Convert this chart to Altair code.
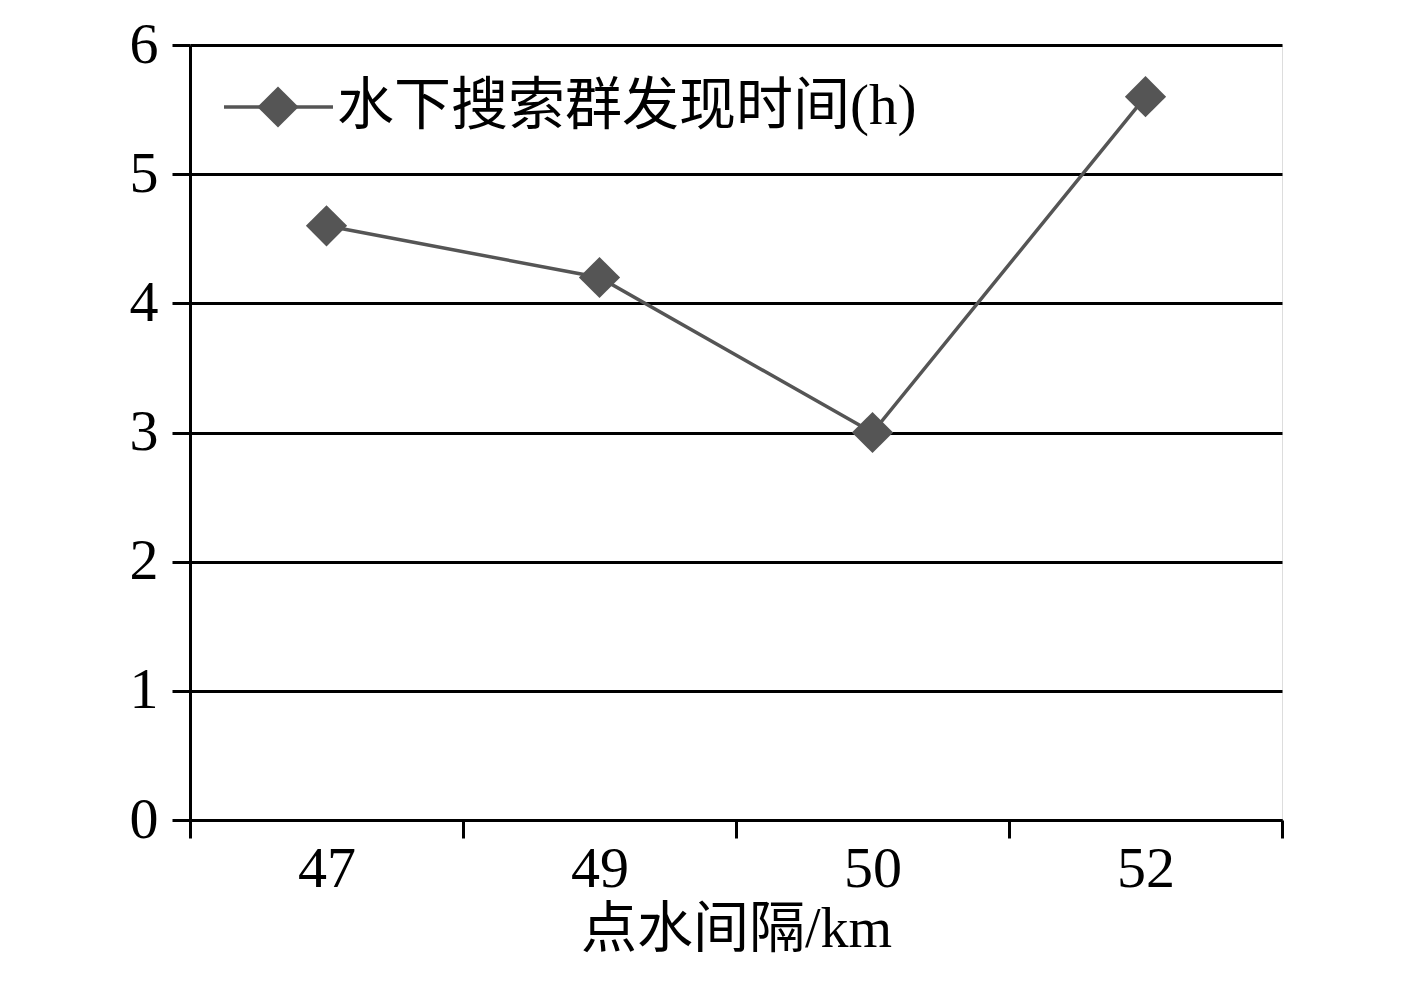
import altair as alt
import pandas as pd

categories = ["47", "49", "50", "52"]
values = [4.6, 4.2, 3.0, 5.6]
series_name = "水下搜索群发现时间(h)"
x_title = "点水间隔/km"

df = pd.DataFrame({"interval": categories, "time": values})

FONT = "'Liberation Serif', 'Times New Roman', 'Noto Sans CJK SC', serif"
GREY = "#555555"

x_enc = alt.X(
    "interval:N",
    sort=categories,
    bandPosition=0.5,
    scale=alt.Scale(type="band", paddingInner=0, paddingOuter=0),
    axis=alt.Axis(
        title=x_title,
        labelAngle=0,
        tickBand="extent",
        grid=False,
        gridOpacity=0,
        domainColor="black",
        domainWidth=3,
        tickColor="black",
        tickWidth=3,
        tickSize=18,
        labelFontSize=58,
        labelFont=FONT,
        labelColor="black",
        labelPadding=2,
        titleFontSize=56,
        titleFont=FONT,
        titleFontWeight="normal",
        titleColor="black",
        titlePadding=4,
    ),
)
y_enc = alt.Y(
    "time:Q",
    scale=alt.Scale(domain=[0, 6], nice=False),
    axis=alt.Axis(
        title=None,
        values=[0, 1, 2, 3, 4, 5, 6],
        grid=True,
        gridColor="black",
        gridWidth=3,
        gridOpacity=1,
        domainColor="black",
        domainWidth=3,
        tickColor="black",
        tickWidth=3,
        tickSize=18,
        labelFontSize=58,
        labelFont=FONT,
        labelColor="black",
        labelPadding=14,
    ),
)

line = alt.Chart(df).mark_line(color=GREY, strokeWidth=3.5).encode(x=x_enc, y=y_enc)
points = alt.Chart(df).mark_point(
    shape="diamond", filled=True, color=GREY, size=1700, opacity=1
).encode(x=x_enc, y=y_enc)

leg_df = pd.DataFrame({"label": [series_name]})
leg_rule = alt.Chart(leg_df).mark_rule(color=GREY, strokeWidth=3.5).encode(
    x=alt.value(34), x2=alt.value(143), y=alt.value(62)
)
leg_point = alt.Chart(leg_df).mark_point(
    shape="diamond", filled=True, color=GREY, size=1700, opacity=1
).encode(x=alt.value(88), y=alt.value(62))
leg_text = alt.Chart(leg_df).mark_text(
    align="left", baseline="middle", fontSize=57, font=FONT, color="black"
).encode(x=alt.value(147), y=alt.value(62), text="label:N")

chart = (
    alt.layer(line, points, leg_rule, leg_point, leg_text)
    .properties(
        width=1092,
        height=775,
        autosize=alt.AutoSizeParams(type="none"),
        padding={"left": 182, "top": 37, "right": 100, "bottom": 140},
    )
    .configure_view(stroke=None, strokeWidth=0, fill="white")
    .configure_axisX(grid=False)
    .configure(background="white")
)

chart.save("out.html", embed_options={"renderer": "svg", "actions": False})
